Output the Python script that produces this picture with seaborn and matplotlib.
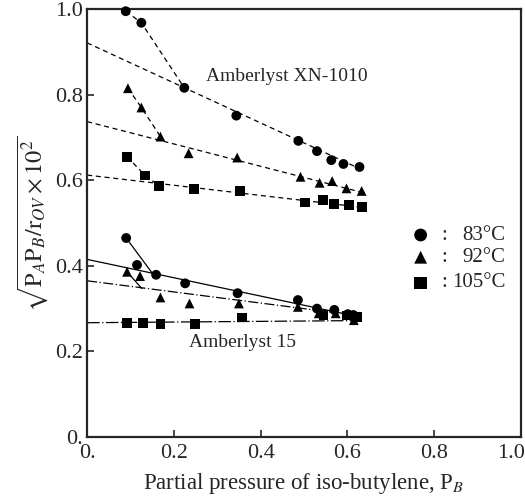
import matplotlib
matplotlib.use("Agg")
import matplotlib.pyplot as plt
import matplotlib.transforms as mtrans
import seaborn as sns
import pandas as pd

# <--- data --->
# Amberlyst XN-1010 (upper group)
xn_83_x = [0.089, 0.125, 0.224, 0.344, 0.487, 0.530, 0.563, 0.591, 0.628]
xn_83_y = [0.995, 0.968, 0.816, 0.751, 0.692, 0.668, 0.647, 0.638, 0.631]
xn_92_x = [0.094, 0.125, 0.169, 0.234, 0.346, 0.492, 0.536, 0.565, 0.598, 0.633]
xn_92_y = [0.815, 0.770, 0.702, 0.663, 0.653, 0.608, 0.594, 0.598, 0.581, 0.575]
xn_105_x = [0.092, 0.134, 0.166, 0.247, 0.353, 0.503, 0.544, 0.569, 0.603, 0.634]
xn_105_y = [0.655, 0.611, 0.587, 0.579, 0.575, 0.548, 0.554, 0.544, 0.542, 0.538]

# Amberlyst 15 (lower group)
a15_83_x = [0.090, 0.115, 0.159, 0.226, 0.347, 0.486, 0.530, 0.570, 0.601, 0.614]
a15_83_y = [0.465, 0.402, 0.379, 0.359, 0.336, 0.320, 0.300, 0.297, 0.287, 0.285]
a15_92_x = [0.092, 0.122, 0.169, 0.236, 0.350, 0.486, 0.534, 0.573, 0.615]
a15_92_y = [0.386, 0.376, 0.326, 0.312, 0.312, 0.304, 0.289, 0.289, 0.273]
a15_105_x = [0.092, 0.129, 0.169, 0.248, 0.357, 0.545, 0.600, 0.622]
a15_105_y = [0.267, 0.267, 0.264, 0.264, 0.279, 0.285, 0.284, 0.280]

# fitted straight lines: (x_start, y_start, x_end, y_end)
fit_xn_83 = [0.0, 0.921, 0.635, 0.624]
fit_xn_92 = [0.0, 0.737, 0.640, 0.570]
fit_xn_105 = [0.0, 0.612, 0.640, 0.536]
fit_a15_83 = [0.0, 0.415, 0.630, 0.280]
fit_a15_92 = [0.0, 0.365, 0.630, 0.283]
fit_a15_105 = [0.0, 0.267, 0.630, 0.272]

# connecting segments for the low-pressure points
conn_xn_83 = ([0.089, 0.125, 0.224], [0.995, 0.968, 0.816])
conn_xn_92 = ([0.094, 0.125, 0.169], [0.815, 0.770, 0.702])
conn_xn_105 = ([0.092, 0.134, 0.166], [0.655, 0.611, 0.587])
conn_a15_83 = ([0.090, 0.150], [0.465, 0.383])
conn_a15_92 = ([0.092, 0.126], [0.386, 0.347])

temps = ["83°C", "92°C", "105°C"]
marker_map = {"83°C": "o", "92°C": "^", "105°C": "s"}

rows = []
for t, xs, ys in [("83°C", xn_83_x, xn_83_y), ("92°C", xn_92_x, xn_92_y),
                  ("105°C", xn_105_x, xn_105_y), ("83°C", a15_83_x, a15_83_y),
                  ("92°C", a15_92_x, a15_92_y), ("105°C", a15_105_x, a15_105_y)]:
    for x, y in zip(xs, ys):
        rows.append({"P_B": x, "value": y, "T": t})
df = pd.DataFrame(rows)

sns.set_style("ticks")
plt.rcParams["font.family"] = ["Liberation Serif", "DejaVu Serif"]
plt.rcParams["mathtext.fontset"] = "stix"

fig = plt.figure(figsize=(5.25, 5.04), dpi=100)
ax = fig.add_axes([0.166, 0.133, 0.826, 0.849])

# fitted lines
for fit, ls in [(fit_xn_83, (0, (4, 3))), (fit_xn_92, (0, (4, 3))), (fit_xn_105, (0, (4, 3))),
                (fit_a15_83, "-"), (fit_a15_92, (0, (8, 2, 1, 2))), (fit_a15_105, (0, (10, 2, 1, 2)))]:
    ax.plot([fit[0], fit[2]], [fit[1], fit[3]], color="black", lw=0.9, ls=ls)

for cx, cy in [conn_xn_83, conn_xn_92, conn_xn_105]:
    ax.plot(cx, cy, color="black", lw=0.9, ls=(0, (4, 3)))
for cx, cy in [conn_a15_83, conn_a15_92]:
    ax.plot(cx, cy, color="black", lw=0.9, ls="-")

sns.scatterplot(data=df, x="P_B", y="value", style="T", markers=marker_map,
                style_order=temps, color="black", s=50, edgecolor="none",
                legend=False, ax=ax, zorder=3, clip_on=False)

# hand-made legend
leg_y = [0.472, 0.420, 0.360]
for t, y in zip(temps, leg_y):
    ax.scatter([0.769], [y], marker=marker_map[t], color="black", s=85, edgecolor="none")
    ax.text(0.824, y, ":", fontsize=15, va="center", ha="center")
    ax.text(0.965, y, t, fontsize=15, va="center", ha="right")

ax.text(0.273, 0.843, "Amberlyst XN-1010", fontsize=14, va="center", ha="left")
ax.text(0.234, 0.220, "Amberlyst 15", fontsize=14, va="center", ha="left")

ax.set_xlim(0, 1.0)
ax.set_ylim(0, 1.0)
ticks = [0.0, 0.2, 0.4, 0.6, 0.8, 1.0]
labels = ["0.", "0.2", "0.4", "0.6", "0.8", "1.0"]
ax.set_xticks(ticks)
ax.set_xticklabels(labels)
ax.set_yticks(ticks)
ax.set_yticklabels(labels)
ax.tick_params(direction="in", length=5, width=1.2, labelsize=16)
ax.tick_params(axis="y", pad=3)
ax.tick_params(axis="x", pad=5)
for sp in ax.spines.values():
    sp.set_linewidth(1.6)
    sp.set_visible(True)

# keep the last x tick label inside the figure
last = ax.get_xticklabels()[-1]
last.set_transform(last.get_transform() + mtrans.ScaledTranslation(-10 / 100, 0, fig.dpi_scale_trans))

ax.set_xlabel(r"Partial pressure of iso-butylene, P$_B$", fontsize=16.5, labelpad=6)
ax.set_ylabel(r"$\sqrt{\mathrm{P}_A\mathrm{P}_B/\mathrm{r}_{OV}\times 10^2}$", fontsize=17.5, labelpad=4)

fig.savefig("out.png", dpi=100)
